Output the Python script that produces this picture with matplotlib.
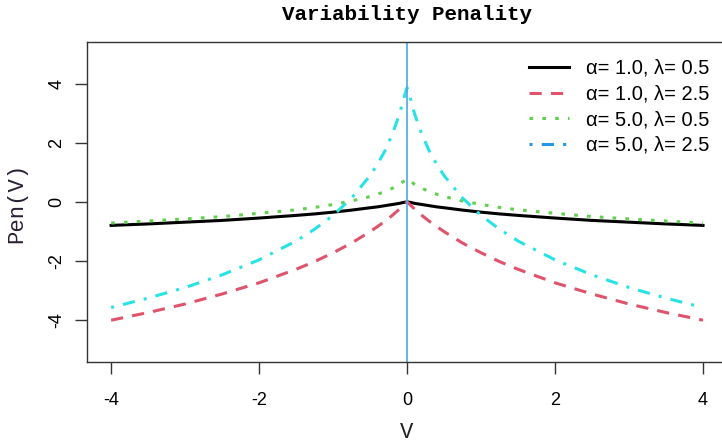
import matplotlib
matplotlib.use("Agg")
import matplotlib.pyplot as plt
from matplotlib.lines import Line2D

# values
v = [-4, -3.5, -3, -2.5, -2, -1.5, -1.25, -1, -0.75, -0.5, -0.4, -0.3, -0.2, -0.1, -0.05, 0,
     0.05, 0.1, 0.2, 0.3, 0.4, 0.5, 0.75, 1, 1.25, 1.5, 2, 2.5, 3, 3.5, 4]
pen_a1_l05 = [-0.80, -0.75, -0.69, -0.63, -0.55, -0.46, -0.41, -0.35, -0.28, -0.20, -0.17, -0.13, -0.09, -0.05, -0.02, 0.00,
              -0.02, -0.05, -0.09, -0.13, -0.17, -0.20, -0.28, -0.35, -0.41, -0.46, -0.55, -0.63, -0.69, -0.75, -0.80]
pen_a1_l25 = [-4.02, -3.76, -3.47, -3.13, -2.75, -2.29, -2.03, -1.73, -1.40, -1.01, -0.84, -0.66, -0.46, -0.24, -0.12, 0.00,
              -0.12, -0.24, -0.46, -0.66, -0.84, -1.01, -1.40, -1.73, -2.03, -2.29, -2.75, -3.13, -3.47, -3.76, -4.02]
pen_a5_l05 = [-0.72, -0.65, -0.58, -0.50, -0.39, -0.27, -0.19, -0.09, 0.03, 0.18, 0.26, 0.35, 0.46, 0.60, 0.69, 0.78,
              0.69, 0.60, 0.46, 0.35, 0.26, 0.18, 0.03, -0.09, -0.19, -0.27, -0.39, -0.50, -0.58, -0.65, -0.72]
pen_a5_l25 = [-3.59, -3.27, -2.91, -2.48, -1.97, -1.33, -0.93, -0.46, 0.13, 0.89, 1.28, 1.73, 2.29, 3.00, 3.47, 3.88,
              3.47, 3.00, 2.29, 1.73, 1.28, 0.89, 0.13, -0.46, -0.93, -1.33, -1.97, -2.48, -2.91, -3.27, -3.59]
labels = ["α= 1.0, λ= 0.5", "α= 1.0, λ= 2.5", "α= 5.0, λ= 0.5", "α= 5.0, λ= 2.5"]
xticks = [-4, -2, 0, 2, 4]
yticks = [-4, -2, 0, 2, 4]

W, H = 722, 445
fig = plt.figure(figsize=(W / 100, H / 100), dpi=100)
ax = fig.add_axes([86.7 / W, (H - 362.3) / H, 640 / W, (362.3 - 42) / H])

lw = 2.2
ax.plot(v, pen_a1_l05, color="black", lw=lw, linestyle="-")
ax.plot(v, pen_a1_l25, color="#DF536B", lw=lw, linestyle=(0, (4, 3)))
ax.plot(v, pen_a5_l05, color="#61D04F", lw=lw, linestyle=(0, (1.2, 3)))
ax.plot(v, pen_a5_l25, color="#28E2E5", lw=lw, linestyle=(0, (1, 3, 4, 3)))
ax.axvline(0, color="#4AA8E8", lw=1.2)

ax.set_xlim(-4.33, 4.32)
ax.set_ylim(-5.45, 5.43)
ax.set_xticks(xticks)
ax.set_yticks(yticks)
ax.set_xticklabels([str(t) for t in xticks], fontfamily="Liberation Sans", fontsize=13)
ax.set_yticklabels([str(t) for t in yticks], fontfamily="Liberation Sans", fontsize=13,
                   rotation=90, va="center")
ax.tick_params(axis="both", direction="out", length=8.5, width=1, color="#333333")
ax.tick_params(axis="x", pad=13)
ax.tick_params(axis="y", pad=7)
for s in ax.spines.values():
    s.set_linewidth(1)
    s.set_color("#333333")

fig.text(407 / W, 1 - 15 / H, "Variability Penality", ha="center", va="center",
         fontfamily="Liberation Mono", fontweight="bold", fontsize=15)
fig.text(407 / W, 1 - 432 / H, "V", ha="center", va="center",
         fontfamily="Liberation Mono", fontsize=16, color="#222222")
fig.text(17 / W, 1 - 203 / H, "Pen(V)", ha="center", va="center", rotation=90,
         fontfamily="Liberation Mono", fontsize=16, color="#2a2035")

# legend (lines only, colors as in the reference legend)
handles = [Line2D([], [], color="black", lw=lw, linestyle="-"),
           Line2D([], [], color="#DF536B", lw=lw, linestyle=(0, (4, 3))),
           Line2D([], [], color="#61D04F", lw=lw, linestyle=(0, (1.2, 3))),
           Line2D([], [], color="#2297E6", lw=lw, linestyle=(0, (1, 3, 4, 3)))]
fig.legend(handles, labels, loc="upper left", bbox_to_anchor=(529 / W, 1 - 59 / H),
           bbox_transform=fig.transFigure, frameon=False, borderpad=0, borderaxespad=0,
           handlelength=2.0, handletextpad=0.85, labelspacing=0.33,
           prop={"family": "Liberation Sans", "size": 14.5})

fig.savefig("out.png", dpi=100)
